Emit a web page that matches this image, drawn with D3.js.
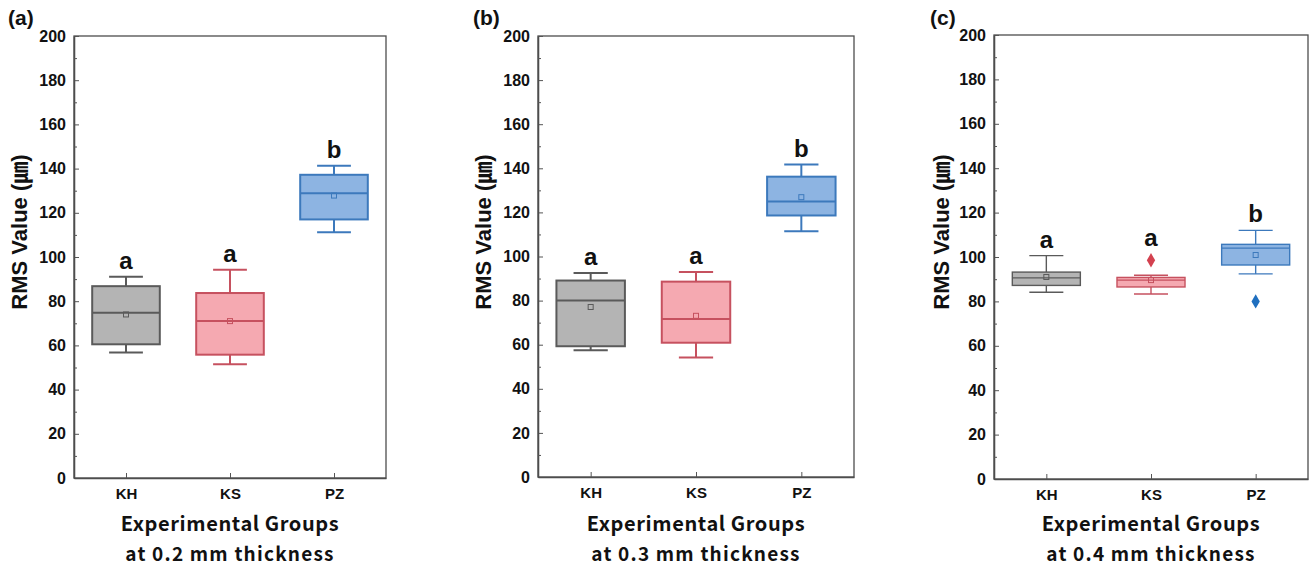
<!DOCTYPE html>
<html>
<head>
<meta charset="utf-8">
<script src="https://cdn.jsdelivr.net/npm/d3@7"></script>
<style>
  body { margin: 0; background: #fff; }
  text { fill: #111; }
</style>
</head>
<body>
<div id="chart"></div>
<script>
// Data
const groups = ['KH', 'KS', 'PZ'];
const panelLabels = ['(a)', '(b)', '(c)'];
const thickness = ['0.2', '0.3', '0.4'];
const yTicks = [0, 20, 40, 60, 80, 100, 120, 140, 160, 180, 200];
const yMinorTicks = [10, 30, 50, 70, 90, 110, 130, 150, 170, 190];

// one row per panel, one value per group
const whiskerLow  = [[56.8, 51.5, 111.2], [57.5, 54.2, 111.4], [84.1, 83.3, 92.4]];
const q1          = [[60.5, 55.8, 117.0], [59.3, 60.9, 118.6], [87.2, 86.5, 96.4]];
const median      = [[74.8, 71.0, 128.8], [80.0, 71.6, 124.9], [90.6, 89.6, 104.0]];
const q3          = [[86.8, 83.7, 137.2], [89.1, 88.6, 136.2], [93.2, 90.8, 105.7]];
const whiskerHigh = [[91.1, 94.2, 141.3], [92.5, 93.0, 141.7], [100.6, 91.8, 112.0]];
const means       = [[74.0, 71.0, 127.8], [77.1, 73.1, 126.9], [91.0, 89.6, 100.9]];
const outliers    = [[[], [], []], [[], [], []], [[], [98.5], [80.0]]];
const letters     = [['a', 'a', 'b'], ['a', 'a', 'b'], ['a', 'a', 'b']];

// Layout
const layout = [
    { left: 74, right: 386, top: 36, bottom: 478, tag: 8, title: 19, stroke: 2 },
    { left: 538, right: 854, top: 36, bottom: 477, tag: 473, title: 483, stroke: 2 },
    { left: 994, right: 1308, top: 35, bottom: 479, tag: 930, title: 941, stroke: 1.4 }
];
const fills = ['#b4b4b4', '#f5a9b1', '#8db4e2'];
const strokes = ['#5a5a5a', '#c6515f', '#3c79bc'];
const outlierColors = ['#555555', '#d3414f', '#1f6fbf'];
const numFont = '"Liberation Sans", Arial, sans-serif';
const titleFont = '"Noto Sans CJK KR", "Noto Sans", sans-serif';

const svg = d3.select('#chart')
    .append('svg')
    .attr('width', 1312)
    .attr('height', 568);

layout.forEach((L, p) => {
    const g = svg.append('g');

    const x = d3.scalePoint()
        .domain(groups)
        .range([L.left, L.right])
        .padding(0.5);
    const y = d3.scaleLinear()
        .domain([0, 200])
        .range([L.bottom, L.top]);
    const step = x.step();
    const boxW = step * 0.65;
    const capW = boxW / 2;

    // Frame
    g.append('rect')
        .attr('x', L.left).attr('y', L.top)
        .attr('width', L.right - L.left).attr('height', L.bottom - L.top)
        .attr('fill', 'none').attr('stroke', '#4d4d4d').attr('stroke-width', 1.3);

    // Y axis (inward ticks)
    const yAxis = g.append('g')
        .attr('transform', `translate(${L.left},0)`)
        .call(d3.axisLeft(y).tickValues(yTicks).tickSize(-5).tickSizeOuter(0).tickPadding(8));
    const yMinor = g.append('g')
        .attr('transform', `translate(${L.left},0)`)
        .call(d3.axisLeft(y).tickValues(yMinorTicks).tickSize(-3).tickSizeOuter(0).tickFormat(''));

    // X axis
    const xAxis = g.append('g')
        .attr('transform', `translate(0,${L.bottom})`)
        .call(d3.axisBottom(x).tickSize(-5).tickSizeOuter(0).tickPadding(10));

    [yAxis, yMinor, xAxis].forEach(a => {
        a.select('.domain').attr('stroke', '#4d4d4d').attr('stroke-width', 1.3);
        a.selectAll('.tick line').attr('stroke', '#555');
    });
    yAxis.selectAll('text')
        .attr('font-family', numFont).attr('font-weight', 'bold').attr('font-size', 16).attr('fill', '#111');
    xAxis.selectAll('text')
        .attr('font-family', numFont).attr('font-weight', 'bold').attr('font-size', 15).attr('fill', '#111');

    // Boxes
    groups.forEach((grp, i) => {
        const cx = x(grp);
        const sw = L.stroke;
        const bg = g.append('g');
        // whiskers
        bg.append('line')
            .attr('x1', cx).attr('x2', cx)
            .attr('y1', y(whiskerLow[p][i])).attr('y2', y(q1[p][i]))
            .attr('stroke', strokes[i]).attr('stroke-width', sw);
        bg.append('line')
            .attr('x1', cx).attr('x2', cx)
            .attr('y1', y(q3[p][i])).attr('y2', y(whiskerHigh[p][i]))
            .attr('stroke', strokes[i]).attr('stroke-width', sw);
        [whiskerLow[p][i], whiskerHigh[p][i]].forEach(v => {
            bg.append('line')
                .attr('x1', cx - capW / 2).attr('x2', cx + capW / 2)
                .attr('y1', y(v)).attr('y2', y(v))
                .attr('stroke', strokes[i]).attr('stroke-width', sw);
        });
        // box
        bg.append('rect')
            .attr('x', cx - boxW / 2)
            .attr('y', y(q3[p][i]))
            .attr('width', boxW)
            .attr('height', y(q1[p][i]) - y(q3[p][i]))
            .attr('fill', fills[i])
            .attr('stroke', strokes[i]).attr('stroke-width', sw);
        // median
        bg.append('line')
            .attr('x1', cx - boxW / 2).attr('x2', cx + boxW / 2)
            .attr('y1', y(median[p][i])).attr('y2', y(median[p][i]))
            .attr('stroke', strokes[i]).attr('stroke-width', sw);
        // mean
        bg.append('rect')
            .attr('x', cx - 2.5).attr('y', y(means[p][i]) - 2.5)
            .attr('width', 5).attr('height', 5)
            .attr('fill', 'none')
            .attr('stroke', strokes[i]).attr('stroke-width', 1);
        // outliers
        bg.selectAll('.outlier')
            .data(outliers[p][i])
            .join('path')
            .attr('class', 'outlier')
            .attr('d', d3.symbol(d3.symbolDiamond, 60))
            .attr('transform', d => `translate(${cx},${y(d)})`)
            .attr('fill', outlierColors[i]);
        // significance letter
        const topV = d3.max([whiskerHigh[p][i]].concat(outliers[p][i]));
        const extra = outliers[p][i].some(v => v > whiskerHigh[p][i]) ? 6 : 0;
        bg.append('text')
            .attr('x', cx)
            .attr('y', y(topV) - 8 - extra)
            .attr('text-anchor', 'middle')
            .attr('font-family', numFont).attr('font-weight', 'bold').attr('font-size', 24)
            .text(letters[p][i]);
    });

    // Panel tag
    g.append('text')
        .attr('x', L.tag).attr('y', 25)
        .attr('font-family', numFont).attr('font-weight', 'bold').attr('font-size', 21)
        .text(panelLabels[p]);

    // Y title
    g.append('text')
        .attr('transform', `translate(${L.title + 8},232) rotate(-90)`)
        .attr('text-anchor', 'middle')
        .attr('font-family', '"Liberation Sans", Arial, "Noto Sans CJK KR", sans-serif')
        .attr('font-weight', 'bold').attr('font-size', 22)
        .text('RMS Value (㎛)');

    // X titles
    const mid = (L.left + L.right) / 2;
    g.append('text')
        .attr('x', mid).attr('y', 531)
        .attr('text-anchor', 'middle')
        .attr('font-family', titleFont).attr('font-weight', 'bold').attr('font-size', 20)
        .attr('letter-spacing', 0.6)
        .text('Experimental Groups');
    g.append('text')
        .attr('x', mid).attr('y', 561)
        .attr('text-anchor', 'middle')
        .attr('font-family', titleFont).attr('font-weight', 'bold').attr('font-size', 19)
        .attr('letter-spacing', 1.2)
        .text(`at ${thickness[p]} mm thickness`);
});
</script>
</body>
</html>
